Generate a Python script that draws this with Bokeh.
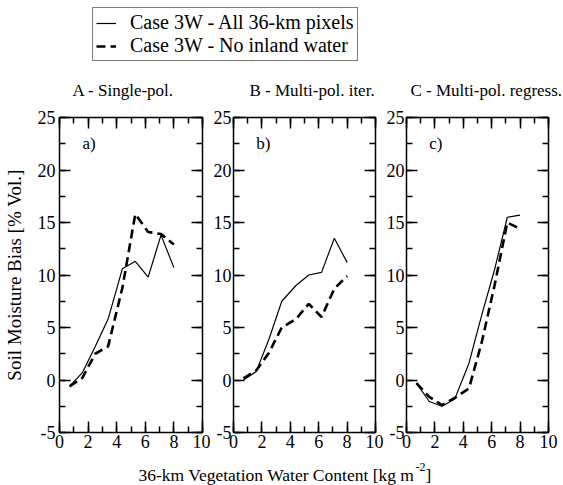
from bokeh.plotting import figure
from bokeh.models import (Range1d, LinearAxis, SingleIntervalTicker, Legend, LegendItem,
                          CustomJSTickFormatter)
from bokeh.layouts import column, row
from bokeh.embed import file_html
from bokeh.resources import INLINE
from bokeh.core.properties import value

FONT = "Liberation Serif"

# ---- data ----
vwc = [0.7, 1.6, 2.5, 3.4, 4.4, 5.3, 6.2, 7.1, 8.0]          # kg m-2 bin centres
a_all = [-0.6, 0.7, 3.2, 5.8, 10.6, 11.3, 9.8, 13.8, 10.7]
a_dry = [-0.6, 0.2, 2.5, 3.2, 8.8, 15.8, 14.1, 13.9, 12.9]
b_all = [0.0, 0.8, 3.9, 7.5, 9.0, 10.0, 10.25, 13.5, 11.2]
b_dry = [0.15, 0.9, 2.6, 5.0, 5.8, 7.25, 6.0, 8.7, 9.9]
c_all = [-0.3, -2.05, -2.5, -1.8, 1.6, 6.2, 10.5, 15.5, 15.7]
c_dry = [-0.3, -1.6, -2.4, -1.7, -0.8, 3.6, 9.0, 15.0, 14.4]

panel_titles = ["A - Single-pol.", "B - Multi-pol. iter.", "C - Multi-pol. regress."]
panel_tags = ["a)", "b)", "c)"]
legend_labels = ["Case 3W - All 36-km pixels", "Case 3W - No inland water"]
y_label = "Soil Moisture Bias [% Vol.]"
x_label_parts = ["36-km Vegetation Water Content [kg m", "-2", "]"]

SOLID = dict(line_color="black", line_width=1.2)
DASHED = dict(line_color="black", line_width=2.6, line_dash="9 5")

TOP_H = 107


def panel(width, left, right, all_y, dry_y, tag, ylabel=None, ystand=2):
    p = figure(width=width, height=349, x_range=Range1d(0, 10), y_range=Range1d(-5, 25),
               output_backend="svg", toolbar_location=None,
               x_axis_type=None, y_axis_type=None,
               min_border_left=left, min_border_right=right,
               min_border_top=10, min_border_bottom=24)
    p.outline_line_color = "black"
    p.outline_line_width = 1.5
    p.background_fill_color = "white"
    p.border_fill_color = "white"

    def style(ax, labels=True, standoff=2):
        ax.axis_line_color = None
        ax.major_tick_in = 11
        ax.major_tick_out = 0
        ax.minor_tick_in = 6
        ax.minor_tick_out = 0
        ax.major_tick_line_width = 1.5
        ax.minor_tick_line_width = 1.5
        ax.major_tick_line_color = "black"
        ax.minor_tick_line_color = "black"
        if labels:
            ax.formatter = CustomJSTickFormatter(code="return tick.toFixed(0)")
            ax.major_label_text_font = FONT
            ax.major_label_text_font_size = "18px"
            ax.major_label_text_color = "black"
            ax.major_label_standoff = standoff
        else:
            ax.formatter = CustomJSTickFormatter(code="return ''")
            ax.major_label_text_font_size = "0px"
            ax.major_label_standoff = 0

    xb = LinearAxis(ticker=SingleIntervalTicker(interval=2, num_minor_ticks=2))
    style(xb, True, 2)
    p.add_layout(xb, "below")
    xt = LinearAxis(ticker=SingleIntervalTicker(interval=2, num_minor_ticks=2))
    style(xt, False)
    p.add_layout(xt, "above")
    yl = LinearAxis(ticker=SingleIntervalTicker(interval=5, num_minor_ticks=2))
    style(yl, True, ystand)
    if ylabel:
        yl.axis_label = ylabel
        yl.axis_label_text_font = FONT
        yl.axis_label_text_font_size = "19px"
        yl.axis_label_text_font_style = "normal"
        yl.axis_label_text_color = "black"
        yl.axis_label_standoff = 10
    p.add_layout(yl, "left")
    yr = LinearAxis(ticker=SingleIntervalTicker(interval=5, num_minor_ticks=2))
    style(yr, False)
    p.add_layout(yr, "right")

    p.line(vwc, all_y, **SOLID)
    p.line(vwc, dry_y, **DASHED)
    p.text(x=[1.6], y=[22.5], text=[tag], text_font=value(FONT),
           text_font_size=value("17px"), text_baseline="middle", text_align="left",
           text_color="black")
    return p


pa = panel(210, 57, 8, a_all, a_dry, panel_tags[0], ylabel=y_label, ystand=4)
pb = panel(173, 20, 8, b_all, b_dry, panel_tags[1])
pc = panel(180, 20, 15, c_all, c_dry, panel_tags[2])

# ---- top strip: legend and panel titles ----
ptop = figure(width=563, height=TOP_H, x_range=Range1d(0, 563), y_range=Range1d(TOP_H, 0),
              output_backend="svg", toolbar_location=None,
              x_axis_type=None, y_axis_type=None, min_border=0)
ptop.outline_line_color = None
ptop.background_fill_color = "white"
ptop.border_fill_color = "white"
nan = float("nan")
r_all = ptop.line(x=[nan], y=[nan], **SOLID)
r_dry = ptop.line(x=[nan], y=[nan], **DASHED)
leg = Legend(items=[LegendItem(label=legend_labels[0], renderers=[r_all]),
                    LegendItem(label=legend_labels[1], renderers=[r_dry])],
             location=(92, TOP_H - 61))
leg.label_text_font = FONT
leg.label_text_font_size = "20px"
leg.label_text_color = "black"
leg.border_line_color = "black"
leg.border_line_width = 1.5
leg.background_fill_color = "white"
leg.background_fill_alpha = 1
leg.padding = 3
leg.spacing = 0
leg.label_height = 22
leg.glyph_height = 22
leg.glyph_width = 20
leg.label_standoff = 14
leg.margin = 0
ptop.add_layout(leg, "center")
ptop.text(x=[72, 249, 410], y=[90, 90, 90], text=panel_titles, text_font=value(FONT),
          text_font_size=value("17px"), text_baseline="middle", text_align="left",
          text_color="black")

# ---- bottom strip: shared x-axis label ----
pbot = figure(width=563, height=29, x_range=Range1d(0, 563), y_range=Range1d(485, 456),
              output_backend="svg", toolbar_location=None,
              x_axis_type=None, y_axis_type=None, min_border=0)
pbot.outline_line_color = None
pbot.background_fill_color = "white"
pbot.border_fill_color = "white"
pbot.text(x=[138], y=[474], text=[x_label_parts[0]], text_font=value(FONT),
          text_font_size=value("17.5px"), text_baseline="middle", text_align="left",
          text_color="black")
pbot.text(x=[415], y=[466], text=[x_label_parts[1]], text_font=value(FONT),
          text_font_size=value("12px"), text_baseline="middle", text_align="left",
          text_color="black")
pbot.text(x=[425], y=[474], text=[x_label_parts[2]], text_font=value(FONT),
          text_font_size=value("17.5px"), text_baseline="middle", text_align="left",
          text_color="black")

layout = column(ptop, row(pa, pb, pc, spacing=0), pbot, spacing=0)
open("out.html", "w").write(file_html(layout, INLINE))
